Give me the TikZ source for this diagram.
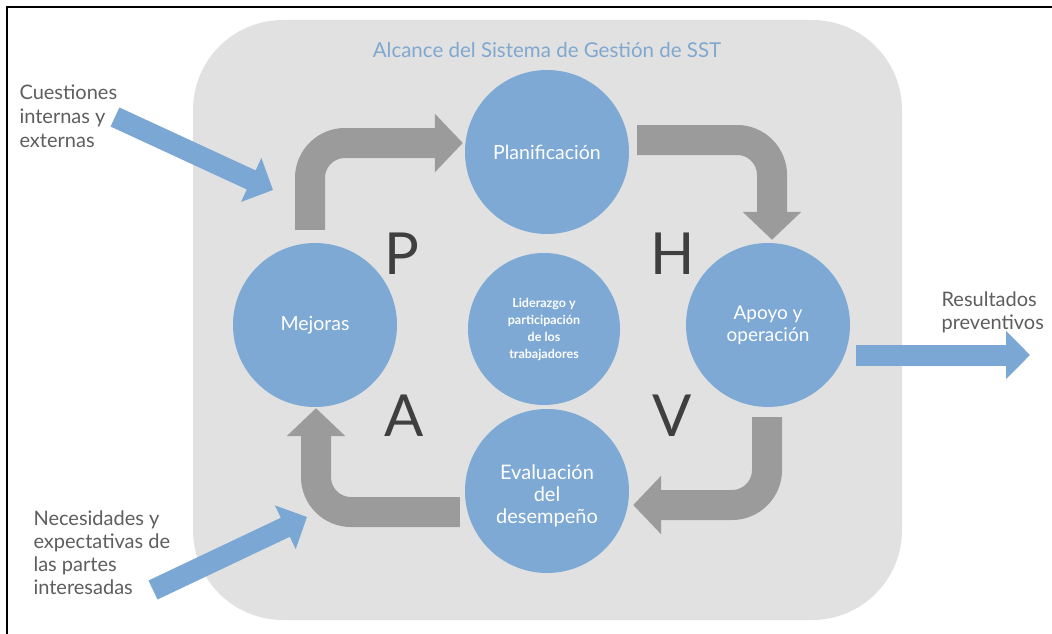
\documentclass[tikz,border=0pt]{standalone}
\usepackage{fontspec}
\setmainfont{Lato}
\usetikzlibrary{arrows.meta,calc}
\definecolor{bgray}{HTML}{E1E1E1}
\definecolor{cblue}{HTML}{7DA9D4}
\definecolor{ablue}{HTML}{7AA7D3}
\definecolor{tblue}{HTML}{80A8CF}
\definecolor{agray}{HTML}{9B9B9B}
\definecolor{lgray}{HTML}{5E5E5E}
\definecolor{dgray}{HTML}{3F3F3F}
\tikzset{
  phase/.style={circle, fill=cblue, inner sep=0pt, minimum size=164pt, text=white, align=center},
  garrow/.style={draw=agray, line width=30pt, rounded corners=35pt, -{Triangle[width=57pt,length=28pt]}},
  barrow/.style={draw=ablue, line width=21pt, -{Triangle[width=47pt,length=24pt]}},
  outlabel/.style={text=lgray, align=left, anchor=west, font=\fontsize{20}{24}\selectfont},
  pdcaletter/.style={text=dgray, inner sep=0pt, font=\fontsize{58}{60}\selectfont}
}
\begin{document}
\begin{tikzpicture}[x=1pt,y=-1pt]
\useasboundingbox (0,0) rectangle (1052,634);
\fill[white] (0,0) rectangle (1052,634);
% frame
\draw[line width=2pt, black] (7,650) -- (7,7) -- (1070,7);
% scope box
\node[fill=bgray, rounded corners=90pt, minimum width=709pt, minimum height=600pt, inner sep=0pt] (alcance) at (547.5,320) {};
\node[text=tblue, font=\fontsize{20.5}{24}\selectfont] (title) at (547,50) {Alcance del Sistema de Gestión de SST};
% phases
\node[phase, font=\fontsize{19.5}{22}\selectfont] (pla) at (547,152) {Planificación};
\node[phase, font=\fontsize{19.5}{22}\selectfont] (mej) at (315,325) {Mejoras};
\node[phase, font=\fontsize{19}{22}\selectfont] (apo) at (768,325) {Apoyo y\\operación};
\node[phase] (eva) at (547,491) {};
\node[text=white, align=center, font=\fontsize{20}{22}\selectfont] (evat) at (547,496) {Evaluación\\del\\desempeño};
\node[phase, minimum size=152pt, font=\fontsize{12.5}{17}\selectfont\bfseries] (lid) at (544,329) {Liderazgo y\\participación\\de los\\trabajadores};
% PHVA letters
\node[pdcaletter] (P) at (402,254) {P};
\node[pdcaletter] (H) at (673,254) {H};
\node[pdcaletter] (A) at (404,416) {A};
\node[pdcaletter] (V) at (672,416) {V};
% cycle arrows
\draw[garrow] ($(mej.north)+(-5,-13)$) |- ($(pla.west)+(-2,-9)$);
\draw[garrow] ($(pla.east)+(8,-12)$) -| ($(apo.north)+(4,-3)$);
\draw[garrow] ($(apo.south)+(-1,10)$) |- ($(eva.east)+(4,14)$);
\draw[garrow] ($(eva.west)+(-5,21)$) -| ($(mej.south)+(1,1)$);
% outside labels
\node[outlabel] (cue) at (16,116) {Cuestiones\\internas y\\externas};
\node[outlabel, font=\fontsize{20}{23}\selectfont] (nec) at (30,553) {Necesidades y\\expectativas de\\las partes\\interesadas};
\node[outlabel, font=\fontsize{20}{23}\selectfont] (res) at (938,312) {Resultados\\preventivos};
% blue arrows
\coordinate (cueS) at (115,117);
\coordinate (cueE) at (273,190);
\coordinate (necS) at (153,590);
\coordinate (necE) at (307,517);
\coordinate (resE) at (1030,355);
\draw[barrow] (cueS) -- (cueE);
\draw[barrow] (necS) -- (necE);
\draw[barrow] ($(apo.east)+(6,30)$) -- (resE);
\end{tikzpicture}
\end{document}
